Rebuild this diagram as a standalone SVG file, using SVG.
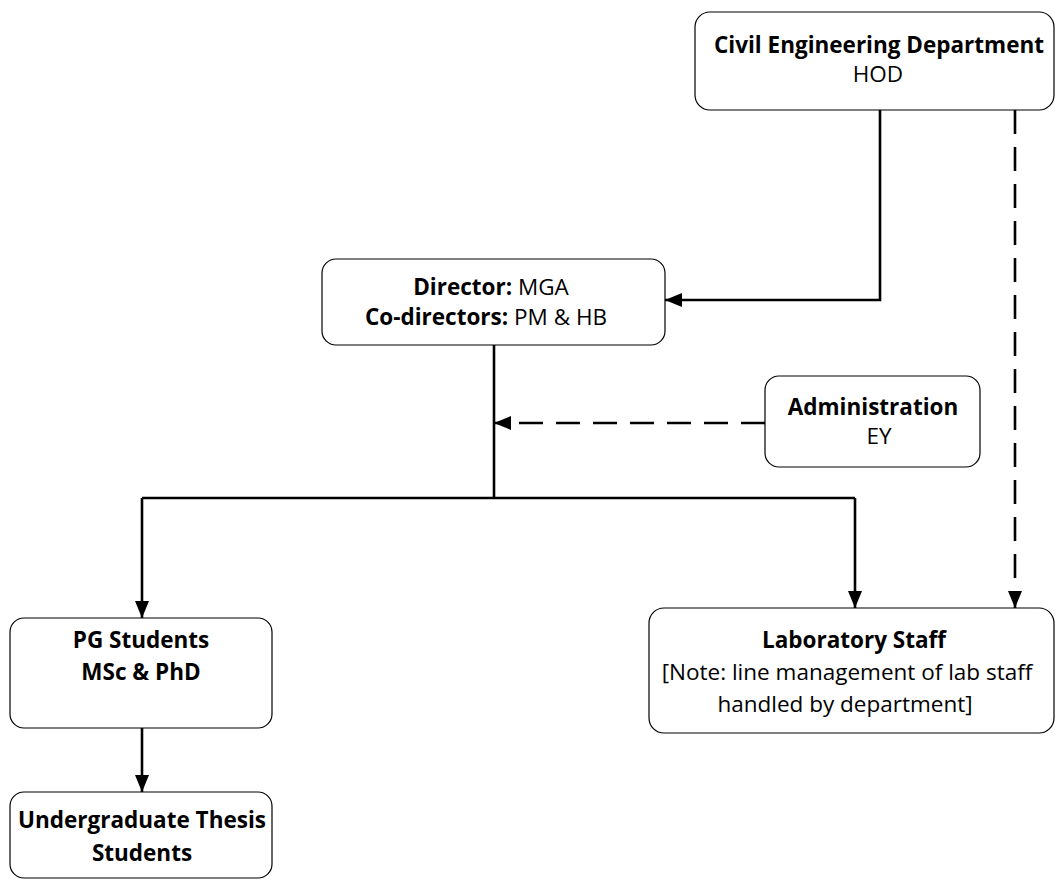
<svg xmlns="http://www.w3.org/2000/svg" width="1055" height="880" viewBox="0 0 1055 880">
<style>
.box{fill:#ffffff;stroke:#000000;stroke-width:1.2}
.t{font-family:"Open Sans","Noto Sans","Liberation Sans",sans-serif;font-size:22.5px;fill:#000000;text-anchor:middle}
.b{font-weight:bold}
.solid{fill:none;stroke:#000000;stroke-width:2.6}
.dash{fill:none;stroke:#000000;stroke-width:2.6;stroke-dasharray:24 13}
</style>
<defs>
<marker id="arr" viewBox="0 0 17 14" refX="17" refY="7" markerWidth="17" markerHeight="14" markerUnits="userSpaceOnUse" orient="auto">
<path d="M0,0 L17,7 L0,14 Z" fill="#000000"/>
</marker>
</defs>
<rect width="1055" height="880" fill="#ffffff"/>
<g id="connectors">
<path class="solid" d="M880,110 V300 H665" marker-end="url(#arr)"/>
<path class="dash" d="M1015,110 V608" marker-end="url(#arr)"/>
<path class="solid" d="M494,345 V498"/>
<path class="dash" d="M765,423 H494" marker-end="url(#arr)"/>
<path class="solid" d="M142,498 H855"/>
<path class="solid" d="M142,498 V618" marker-end="url(#arr)"/>
<path class="solid" d="M855,498 V608" marker-end="url(#arr)"/>
<path class="solid" d="M142,728 V792" marker-end="url(#arr)"/>
</g>
<g id="hod">
<rect class="box" x="695" y="12" width="359" height="98" rx="15"/>
<text class="t b" x="879" y="53">Civil Engineering Department</text>
<text class="t" x="878" y="82">HOD</text>
</g>
<g id="director">
<rect class="box" x="322" y="259" width="343" height="86" rx="14"/>
<text class="t" x="491" y="295"><tspan class="b">Director:</tspan> MGA</text>
<text class="t" x="486" y="325"><tspan class="b">Co-directors:</tspan> PM &amp; HB</text>
</g>
<g id="administration">
<rect class="box" x="765" y="376" width="215" height="91" rx="14"/>
<text class="t b" x="873" y="415">Administration</text>
<text class="t" x="879" y="444">EY</text>
</g>
<g id="pg">
<rect class="box" x="10" y="618" width="262" height="110" rx="14"/>
<text class="t b" x="141" y="648">PG Students</text>
<text class="t b" x="141" y="680">MSc &amp; PhD</text>
</g>
<g id="undergrad">
<rect class="box" x="10" y="792" width="262" height="86" rx="14"/>
<text class="t b" x="142" y="828">Undergraduate Thesis</text>
<text class="t b" x="142" y="861">Students</text>
</g>
<g id="lab">
<rect class="box" x="649" y="608" width="405" height="125" rx="15"/>
<text class="t b" x="854" y="648">Laboratory Staff</text>
<text class="t" x="847" y="680">[Note: line management of lab staff</text>
<text class="t" x="845" y="712">handled by department]</text>
</g>
</svg>
